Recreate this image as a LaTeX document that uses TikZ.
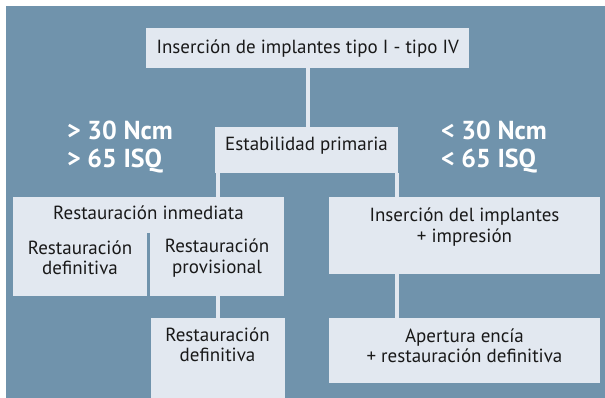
\documentclass[tikz,border=0pt]{standalone}
\usepackage{fontspec}
\setmainfont{PT Sans}
\usetikzlibrary{positioning}
\definecolor{bgblue}{RGB}{112,147,172}
\definecolor{boxgray}{RGB}{226,232,240}
\tikzset{
  box/.style={fill=boxgray, inner sep=0pt, anchor=north west},
  txt/.style={align=center, inner sep=0pt, text=black!90, font=\fontsize{19}{20.5}\selectfont},
  crit/.style={align=left, inner sep=0pt, anchor=west, text=white, font=\fontsize{26}{28.5}\selectfont\bfseries},
  link/.style={draw=boxgray, line width=4pt},
}
\begin{document}
\begin{tikzpicture}[x=1pt,y=-1pt]
	% Background
	\useasboundingbox (0,0) rectangle (605,398);
	\fill[bgblue] (6,6) rectangle (605,398);

	% Boxes
	\node[box, txt, minimum width=323pt, minimum height=40pt] (implant) at (146,28) {Inserción de implantes tipo I - tipo IV};
	\node[box, minimum width=183pt, minimum height=46pt] (estab) at (215,127) {};
	\node[box, minimum width=271pt, minimum height=99pt] (inmed) at (13,197) {};
	\node[box, minimum width=271pt, minimum height=77pt] (inser) at (329,197) {};
	\node[box, minimum width=134pt, minimum height=80pt] (def) at (151,318) {};
	\node[box, minimum width=271pt, minimum height=65pt] (apert) at (329,318) {};

	% Split of the immediate restoration
	\draw[bgblue, line width=3pt] (148.5,233) -- (148.5,296);

	% Box texts
	\node[txt] (estabtxt) at (306.5,146) {Estabilidad primaria};
	\node[txt] (inmedtitle) at (148.5,213) {Restauración inmediata};
	\node[txt] (inmeddef) at (80,258) {Restauración\\definitiva};
	\node[txt] (inmedprov) at (217,258) {Restauración\\provisional};
	\node[txt] (insertxt) at (464.5,227) {Inserción del implantes\\+ impresión};
	\node[txt] (deftxt) at (217.5,345) {Restauración\\definitiva};
	\node[txt] (aperttxt) at (464.5,346) {Apertura encía\\+ restauración definitiva};

	% Criteria
	\node[crit] (high) at (67,147) {> 30 Ncm\\> 65 ISQ};
	\node[crit] (low) at (441,147) {< 30 Ncm\\< 65 ISQ};

	% Connectors
	\coordinate (forkR) at ([xshift=-1.5pt]estab.south east);
	\draw[link] (implant.south) -- (implant.south |- estab.north);
	\draw[link] (estab.south -| def.north) -- (inmed.north -| def.north);
	\draw[link] (inmed.south -| def.north) -- (def.north);
	\draw[link] (forkR) -- (forkR |- inser.north);
	\draw[link] (forkR |- inser.south) -- (forkR |- apert.north);
\end{tikzpicture}
\end{document}
